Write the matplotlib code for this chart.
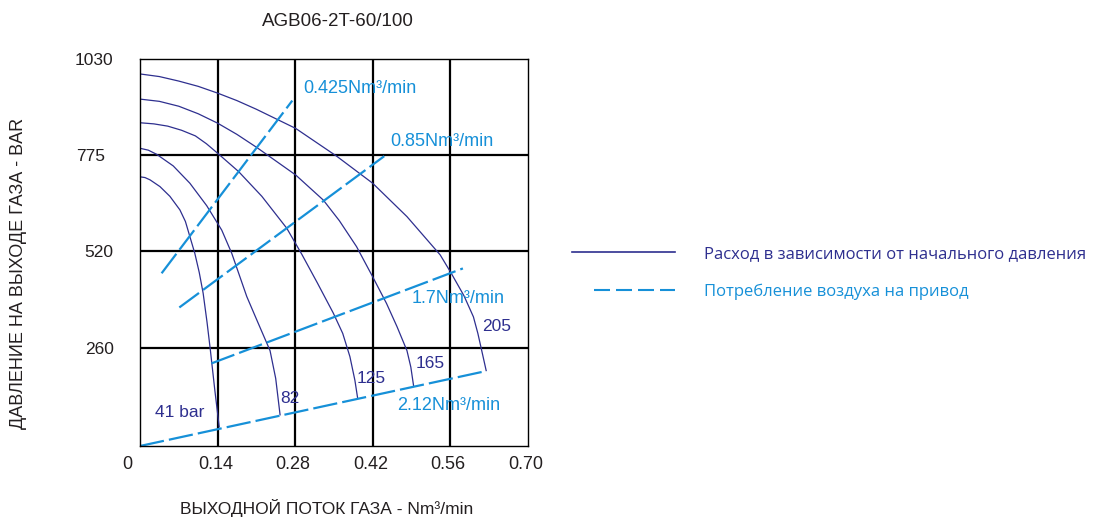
import matplotlib
matplotlib.use('Agg')
import matplotlib.pyplot as plt
from matplotlib.lines import Line2D
from matplotlib.transforms import ScaledTranslation

plt.rcParams['font.family'] = ['Liberation Sans', 'DejaVu Sans']

# Curves: flow vs outlet pressure for each inlet pressure (bar)
curve_labels = ['41 bar', '82', '125', '165', '205']
flow_41 = [0, 0.009, 0.018, 0.036, 0.054, 0.072, 0.082, 0.090, 0.099, 0.107, 0.114, 0.121, 0.127, 0.135, 0.143]
pres_41 = [717, 715, 709, 691, 665, 629, 598, 558, 513, 462, 407, 330, 256, 150, 51]
flow_82 = [0, 0.015, 0.03, 0.06, 0.09, 0.1205, 0.1476, 0.1657, 0.1928, 0.2108, 0.2348, 0.245, 0.2529]
pres_82 = [793, 788, 777, 746, 700, 640, 575, 513, 398, 336, 254, 180, 83]
flow_125 = [0, 0.025, 0.05, 0.075, 0.10, 0.12, 0.14, 0.178, 0.22, 0.265, 0.292, 0.32, 0.349, 0.366, 0.379, 0.388, 0.393]
pres_125 = [861, 858, 852, 841, 826, 805, 780, 731, 665, 580, 511, 435, 354, 300, 238, 175, 127]
flow_165 = [0, 0.035, 0.07, 0.105, 0.14, 0.175, 0.211, 0.281, 0.331, 0.36, 0.391, 0.420, 0.445, 0.464, 0.482, 0.489, 0.494]
pres_165 = [924, 918, 905, 885, 860, 830, 795, 722, 655, 600, 531, 451, 380, 318, 254, 210, 160]
flow_205 = [0, 0.035, 0.07, 0.105, 0.14, 0.175, 0.21, 0.281, 0.355, 0.42, 0.482, 0.542, 0.562, 0.585, 0.602, 0.610, 0.617, 0.625]
pres_205 = [991, 984, 972, 958, 940, 920, 897, 846, 772, 700, 611, 509, 460, 400, 344, 300, 254, 201]
curve_flows = [flow_41, flow_82, flow_125, flow_165, flow_205]
curve_pres = [pres_41, pres_82, pres_125, pres_165, pres_205]
curve_label_x = [0.027, 0.253, 0.3915, 0.497, 0.617]
curve_label_y = [90, 127, 180, 220, 318]

# Air consumption of the drive
air_labels = ['0.425Nm³/min', '0.85Nm³/min', '1.7Nm³/min', '2.12Nm³/min']
air_x = [[0.039, 0.275], [0.071, 0.441], [0.129, 0.583], [0, 0.626]]
air_y = [[460, 920], [369, 772], [220, 473], [0, 200]]
air_label_x = [0.294, 0.4516, 0.4896, 0.4637]
air_label_y = [953, 810, 393, 107]

x_ticks = [0, 0.14, 0.28, 0.42, 0.56, 0.70]
x_ticklabels = ['0', '0.14', '0.28', '0.42', '0.56', '0.70']
y_ticks = [260, 520, 775, 1030]
y_ticklabels = ['260', '520', '775', '1030']

legend_labels = ['Расход в зависимости от начального давления',
                 'Потребление воздуха на привод']

curve_color = '#2e2f8f'
air_color = '#1690d8'
text_color = '#231f20'

fig = plt.figure(figsize=(10.93, 5.2), dpi=100)
ax = fig.add_axes([140 / 1093, 1 - 446 / 520, 387.7 / 1093, 386.7 / 520])

for fx, py in zip(curve_flows, curve_pres):
    ax.plot(fx, py, color=curve_color, lw=0.9)
for lab, lx, ly in zip(curve_labels, curve_label_x, curve_label_y):
    ax.text(lx, ly, lab, color=curve_color, fontsize=12.5, ha='left', va='center')

for xs, ys in zip(air_x, air_y):
    ax.plot(xs, ys, color=air_color, lw=1.6, linestyle=(0, (11, 2.3)))
for lab, lx, ly in zip(air_labels, air_label_x, air_label_y):
    ax.text(lx, ly, lab, color=air_color, fontsize=13, ha='left', va='center')

# interior grid lines
for gx in x_ticks[1:-1]:
    ax.axvline(gx, color='black', lw=1.6, zorder=1)
for gy in y_ticks[:-1]:
    ax.axhline(gy, color='black', lw=1.6, zorder=1)

ax.set_xlim(0, 0.70)
ax.set_ylim(0, 1030)
ax.set_xticks(x_ticks)
ax.set_xticklabels(x_ticklabels)
ax.set_yticks(y_ticks)
ax.set_yticklabels(y_ticklabels)
ax.tick_params(axis='x', length=0, pad=7, labelsize=13, labelcolor=text_color)
ax.tick_params(axis='y', length=0, pad=19, labelsize=12.5, labelcolor=text_color)
for sp in ax.spines.values():
    sp.set_linewidth(1.0)

# small label offsets as in the original
xl = ax.get_xticklabels()
xl[0].set_transform(xl[0].get_transform() + ScaledTranslation(-13 / 100, 0, fig.dpi_scale_trans))
for lab in xl[1:]:
    lab.set_transform(lab.get_transform() + ScaledTranslation(-2 / 100, 0, fig.dpi_scale_trans))
yl = ax.get_yticklabels()
yl[2].set_transform(yl[2].get_transform() + ScaledTranslation(-8 / 100, 0, fig.dpi_scale_trans))

ax.set_xlabel('ВЫХОДНОЙ ПОТОК ГАЗА - Nm³/min', fontsize=12.5, color=text_color)
ax.xaxis.set_label_coords((327 - 140) / 387.7, (446 - 499) / 386.7)
ax.set_ylabel('ДАВЛЕНИЕ НА ВЫХОДЕ ГАЗА - BAR', fontsize=13, color=text_color)
ax.yaxis.set_label_coords((27 - 140) / 387.7, (446 - 273) / 386.7)

ax.set_title('AGB06-2T-60/100', fontsize=13.5, color=text_color, x=(337.5 - 140) / 387.7, y=1.0, pad=24)

handles = [Line2D([], [], color=curve_color, lw=1.2),
           Line2D([], [], color=air_color, lw=1.5,
                  linestyle=(42.24, (7.68, 2.88, 7.68, 2.88, 7.68, 2.88, 7.68, 13.44)))]
leg = fig.legend(handles, legend_labels, loc='upper left',
                 bbox_to_anchor=(572 / 1093, 1 - 246 / 520), bbox_transform=fig.transFigure,
                 frameon=False, handlelength=6.2, handletextpad=1.7, labelspacing=1.3,
                 borderpad=0, borderaxespad=0, labelcolor='linecolor',
                 prop={'family': 'Open Sans', 'size': 12})

fig.savefig('out.png', dpi=100)
